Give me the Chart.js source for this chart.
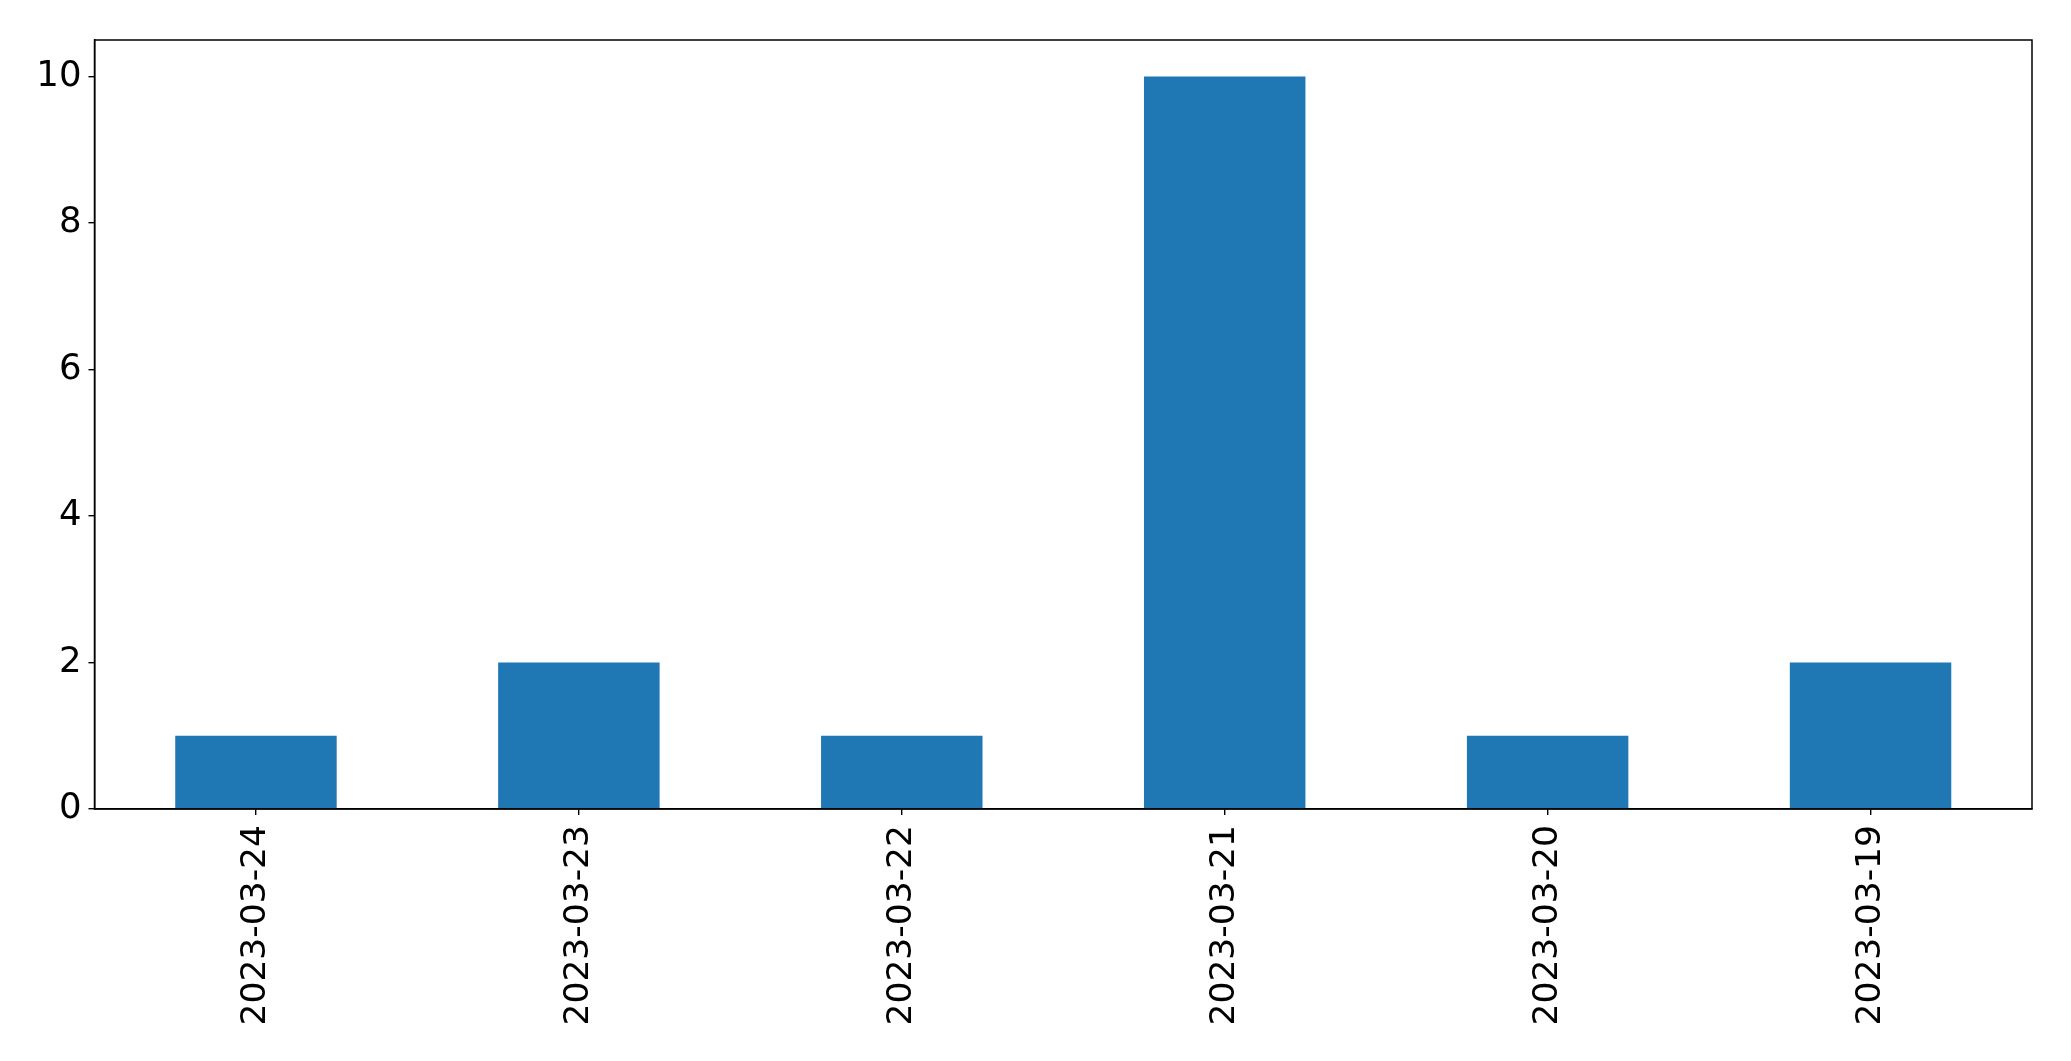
<!DOCTYPE html>
<html>
<head>
<meta charset="utf-8">
<script src="https://cdn.jsdelivr.net/npm/chart.js@4"></script>
<style>
html,body{margin:0;padding:0;background:#fff;}
#wrap{width:2071px;height:1061px;position:relative;}
</style>
</head>
<body>
<div id="wrap"><canvas id="c" width="2071" height="1061"></canvas></div>
<script>
const categories = ["2023-03-24","2023-03-23","2023-03-22","2023-03-21","2023-03-20","2023-03-19"];
const values = [1, 2, 1, 10, 1, 2];
const yTicks = [0, 2, 4, 6, 8, 10];

const frame = {
  id: 'frame',
  afterDraw(chart) {
    const a = chart.chartArea, ctx = chart.ctx;
    ctx.save();
    ctx.strokeStyle = '#000';
    ctx.lineWidth = 1.5;
    ctx.strokeRect(a.left, a.top, a.right - a.left, a.bottom - a.top);
    ctx.restore();
  }
};

new Chart(document.getElementById('c'), {
  type: 'bar',
  data: {
    labels: categories,
    datasets: [{
      data: values,
      backgroundColor: '#1f77b4',
      borderWidth: 0,
      categoryPercentage: 1.0,
      barPercentage: 0.5
    }]
  },
  options: {
    responsive: false,
    animation: false,
    devicePixelRatio: 1,
    layout: { padding: { top: 40, right: 39, left: 0, bottom: 0 } },
    plugins: { legend: { display: false }, tooltip: { enabled: false } },
    scales: {
      x: {
        grid: { display: true, offset: false, drawOnChartArea: false, drawTicks: true, tickLength: 6, color: '#000', lineWidth: 1.4 },
        border: { display: true, color: '#000', width: 1.5 },
        ticks: { color: '#000', font: { family: 'DejaVu Sans', size: 34.5 }, maxRotation: 90, minRotation: 90, padding: 10, autoSkip: false },
        afterFit(scale) { scale.height = 252; }
      },
      y: {
        min: 0,
        max: 10.5,
        grid: { display: true, drawOnChartArea: false, drawTicks: true, tickLength: 6, color: '#000', lineWidth: 1.4 },
        border: { display: true, color: '#000', width: 1.5 },
        ticks: { color: '#000', font: { family: 'DejaVu Sans', size: 35.5 }, stepSize: 2, includeBounds: false, padding: 7 },
        afterBuildTicks(scale) { scale.ticks = yTicks.map(v => ({ value: v })); },
        afterFit(scale) { scale.width = 94.5; }
      }
    }
  },
  plugins: [frame]
});
</script>
</body>
</html>
